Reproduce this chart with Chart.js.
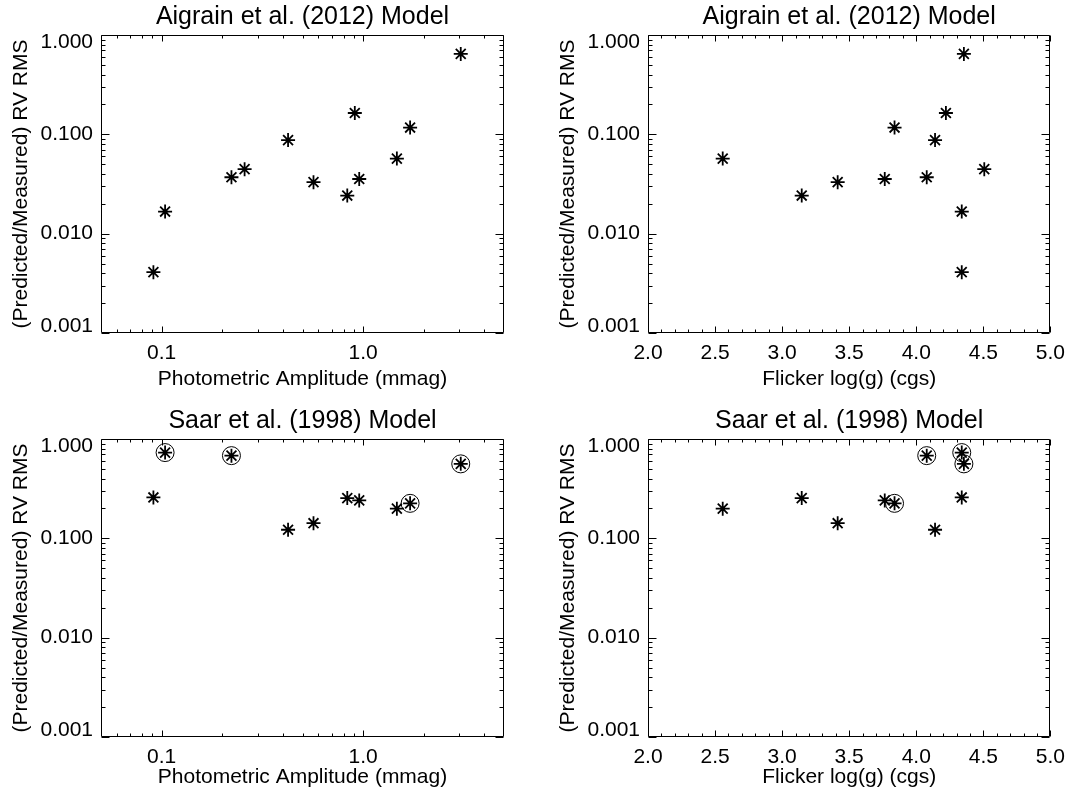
<!DOCTYPE html>
<html>
<head>
<meta charset="utf-8">
<title>Predicted/Measured RV RMS</title>
<script src="https://cdn.jsdelivr.net/npm/chart.js@4.4.1/dist/chart.umd.min.js"></script>
<style>
  html, body { margin: 0; padding: 0; background: #fff; }
  #wrap { position: relative; width: 1073px; height: 796px; }
  canvas { position: absolute; }
</style>
</head>
<body>
<div id="wrap">
  <canvas id="c1" width="547" height="398" style="left:0;top:0"></canvas>
  <canvas id="c2" width="526" height="398" style="left:547px;top:0"></canvas>
  <canvas id="c3" width="547" height="398" style="left:0;top:398px"></canvas>
  <canvas id="c4" width="526" height="398" style="left:547px;top:398px"></canvas>
</div>
<script>
// one entry per star
const amplitude = [0.091, 0.104, 0.222, 0.258, 0.424, 0.567, 0.834, 0.909, 0.956, 1.47, 1.71, 3.05];
const flickerLogg = [4.339, 4.339, 4.078, 4.507, 4.140, 3.414, 3.146, 4.221, 3.765, 2.557, 3.838, 4.355];
const aigrainRatio = [0.0041, 0.0167, 0.037, 0.0446, 0.0875, 0.033, 0.0242, 0.164, 0.0355, 0.057, 0.117, 0.645];
const saarRatio = [0.258, 0.73, 0.68, null, 0.122, 0.142, 0.254, null, 0.241, 0.199, 0.225, 0.562];
const circled = [false, true, true, false, false, false, false, false, false, false, true, true];

const yTicks = [0.001, 0.01, 0.1, 1];
const ampTicks = [0.1, 1];
const loggTicks = [2.0, 2.5, 3.0, 3.5, 4.0, 4.5, 5.0];

const FONT = '"Liberation Sans", Arial, Helvetica, sans-serif';
Chart.defaults.font.family = FONT;
Chart.defaults.color = '#000';

function logMinors(lo, hi) {
  const out = [];
  for (let d = Math.floor(Math.log10(lo)); d < Math.ceil(Math.log10(hi)); d++) {
    for (let k = 2; k <= 9; k++) {
      const v = k * Math.pow(10, d);
      if (v > lo * 1.0001 && v < hi * 0.9999) out.push(v);
    }
  }
  return out;
}
function linMinors(lo, hi, step) {
  const out = [];
  for (let i = 1; lo + i * step < hi - 1e-9; i++) out.push(lo + i * step);
  return out;
}

// box with inward ticks on all four sides
const boxTicks = {
  id: 'boxTicks',
  beforeDatasetsDraw(chart, args, o) {
    const {ctx, chartArea: a, scales: {x, y}} = chart;
    const L = Math.round(a.left) + 0.5, R = Math.round(a.right) - 0.5;
    const T = Math.round(a.top) + 0.5, B = Math.round(a.bottom) - 0.5;
    ctx.save();
    ctx.strokeStyle = '#000';
    ctx.lineWidth = 1;
    ctx.beginPath();
    ctx.rect(L, T, R - L, B - T);
    const xt = (vals, len) => vals.forEach(v => {
      const p = Math.round(x.getPixelForValue(v)) + 0.5;
      ctx.moveTo(p, B); ctx.lineTo(p, B - len);
      ctx.moveTo(p, T); ctx.lineTo(p, T + len);
    });
    const yt = (vals, len) => vals.forEach(v => {
      const p = Math.round(y.getPixelForValue(v)) + 0.5;
      ctx.moveTo(L, p); ctx.lineTo(L + len, p);
      ctx.moveTo(R, p); ctx.lineTo(R - len, p);
    });
    xt(o.xMajor, 6); xt(o.xMinor, 3);
    yt(o.yMajor, 8); yt(o.yMinor, 4);
    ctx.stroke();
    ctx.restore();
  }
};

function makePanel(id, cfg) {
  const W = cfg.width, H = 398;
  const stars = cfg.xs.map((v, i) => ({x: v, y: cfg.ys[i]})).filter(p => p.y != null);
  const rings = cfg.rings ? cfg.xs.map((v, i) => ({x: v, y: cfg.ys[i]})).filter((p, i) => circled[i] && p.y != null) : [];

  const xScale = cfg.xLog ? {
    type: 'logarithmic', min: 0.05, max: 5
  } : {
    type: 'linear', min: 2, max: 5
  };
  Object.assign(xScale, {
    position: 'bottom',
    grid: {display: false, drawTicks: false},
    border: {display: false},
    afterBuildTicks: s => { s.ticks = cfg.xTicks.map(v => ({value: v})); },
    afterFit: s => { s.height = H - cfg.bottom; },
    ticks: {
      autoSkip: false, maxRotation: 0, padding: 8, color: '#000',
      font: {size: 21, lineHeight: 1.2},
      callback: v => Number(v).toFixed(1)
    },
    title: {display: true, text: cfg.xTitle, color: '#000',
      font: {size: 21, lineHeight: 1.2}, padding: {top: 0, bottom: 6}}
  });

  return new Chart(document.getElementById(id), {
    type: 'scatter',
    data: {
      datasets: [
        {data: stars, pointStyle: 'star', pointRadius: 7, pointBorderWidth: 1.8,
         borderColor: '#000', backgroundColor: '#000'},
        {data: rings, pointStyle: 'circle', pointRadius: 9, pointBorderWidth: 1,
         borderColor: '#000', backgroundColor: 'rgba(0,0,0,0)'}
      ]
    },
    options: {
      responsive: false,
      animation: false,
      events: [],
      layout: {padding: {left: 0, right: W - cfg.right, top: 0, bottom: 0}},
      scales: {
        x: xScale,
        y: {
          type: 'logarithmic', position: 'left', min: 0.001, max: 1,
          grid: {display: false, drawTicks: false},
          border: {display: false},
          afterBuildTicks: s => { s.ticks = yTicks.map(v => ({value: v})); },
          afterFit: s => { s.width = cfg.left; },
          ticks: {
            autoSkip: false, padding: 8, color: '#000',
            font: {size: 21, lineHeight: '14px'},
            callback: (v, i, t) => {
              const txt = Number(v).toFixed(3);
              if (i === t.length - 1) return ['', txt];
              if (i === 0) return [txt, ''];
              return txt;
            }
          },
          title: {display: true, text: '(Predicted/Measured) RV RMS', color: '#000',
            font: {size: 21, lineHeight: 1.2}, padding: {top: 9, bottom: 0}}
        }
      },
      plugins: {
        legend: {display: false},
        tooltip: {enabled: false},
        title: {display: true, text: cfg.title, fullSize: false, color: '#000',
          font: {size: 25, weight: 'normal', lineHeight: '30px'},
          padding: {top: cfg.top - 33, bottom: 3}},
        boxTicks: {
          xMajor: cfg.xTicks, xMinor: cfg.xMinor,
          yMajor: yTicks, yMinor: logMinors(0.001, 1)
        }
      }
    },
    plugins: [boxTicks]
  });
}

const ampMinor = logMinors(0.05, 5);
const loggMinor = linMinors(2, 5, 0.1).filter(v => Math.abs(v * 2 - Math.round(v * 2)) > 1e-6);

makePanel('c1', {width: 547, left: 101, right: 504, top: 35, bottom: 333,
  title: 'Aigrain et al. (2012) Model', xTitle: 'Photometric Amplitude (mmag)',
  xLog: true, xs: amplitude, ys: aigrainRatio, xTicks: ampTicks, xMinor: ampMinor});
makePanel('c2', {width: 526, left: 101, right: 505, top: 35, bottom: 333,
  title: 'Aigrain et al. (2012) Model', xTitle: 'Flicker log(g) (cgs)',
  xLog: false, xs: flickerLogg, ys: aigrainRatio, xTicks: loggTicks, xMinor: loggMinor});
makePanel('c3', {width: 547, left: 101, right: 504, top: 41, bottom: 339,
  title: 'Saar et al. (1998) Model', xTitle: 'Photometric Amplitude (mmag)',
  xLog: true, xs: amplitude, ys: saarRatio, xTicks: ampTicks, xMinor: ampMinor, rings: true});
makePanel('c4', {width: 526, left: 101, right: 505, top: 41, bottom: 339,
  title: 'Saar et al. (1998) Model', xTitle: 'Flicker log(g) (cgs)',
  xLog: false, xs: flickerLogg, ys: saarRatio, xTicks: loggTicks, xMinor: loggMinor, rings: true});
</script>
</body>
</html>
